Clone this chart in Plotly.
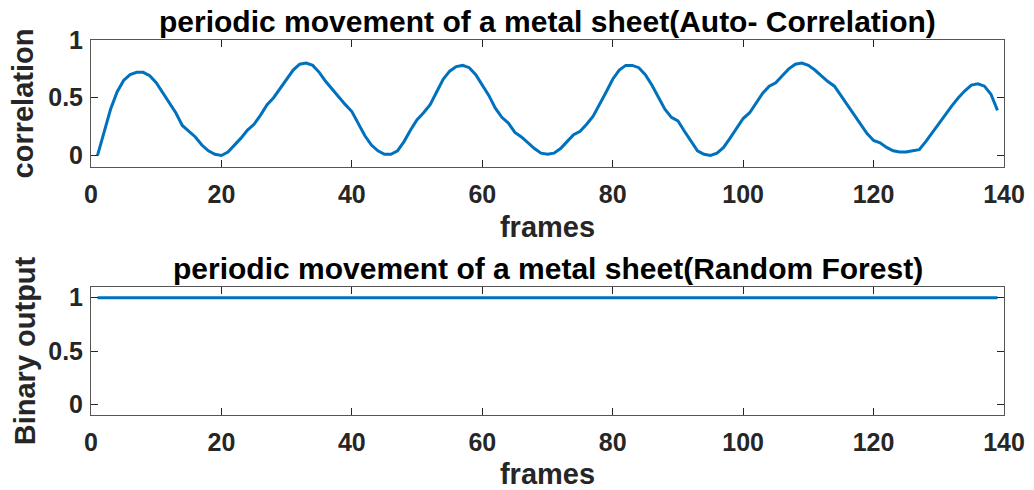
import plotly.graph_objects as go
from plotly.subplots import make_subplots

frames = list(range(1, 140))
correlation = [
    0.00, 0.20, 0.40, 0.55, 0.65, 0.70, 0.72, 0.72, 0.69, 0.63,
    0.54, 0.45, 0.37, 0.26, 0.21, 0.16, 0.09, 0.04, 0.01, 0.00,
    0.03, 0.09, 0.15, 0.22, 0.27, 0.35, 0.44, 0.50, 0.58, 0.67,
    0.74, 0.79, 0.80, 0.78, 0.72, 0.64, 0.57, 0.50, 0.44, 0.38,
    0.27, 0.17, 0.09, 0.04, 0.01, 0.01, 0.04, 0.12, 0.22, 0.31,
    0.37, 0.44, 0.55, 0.66, 0.73, 0.77, 0.78, 0.76, 0.70, 0.61,
    0.52, 0.41, 0.33, 0.28, 0.20, 0.16, 0.11, 0.06, 0.02, 0.01,
    0.02, 0.06, 0.12, 0.18, 0.21, 0.27, 0.34, 0.44, 0.55, 0.66,
    0.74, 0.78, 0.78, 0.76, 0.70, 0.61, 0.51, 0.40, 0.33, 0.30,
    0.21, 0.12, 0.04, 0.01, 0.00, 0.02, 0.07, 0.15, 0.24, 0.32,
    0.37, 0.46, 0.54, 0.60, 0.63, 0.69, 0.75, 0.79, 0.80, 0.78,
    0.74, 0.69, 0.64, 0.60, 0.52, 0.44, 0.35, 0.27, 0.19, 0.13,
    0.11, 0.07, 0.04, 0.03, 0.03, 0.04, 0.05, 0.12, 0.20, 0.28,
    0.36, 0.43, 0.50, 0.56, 0.61, 0.62, 0.60, 0.53, 0.39,
]
binary_output = [1] * len(frames)

x_ticks = [0, 20, 40, 60, 80, 100, 120, 140]
y_ticks = [0, 0.5, 1]
y_ticktext = ["0", "0.5", "1"]

title_top = "periodic movement of a metal sheet(Auto- Correlation)"
title_bottom = "periodic movement of a metal sheet(Random Forest)"

BLUE = "#0072BD"
AX = "#262626"
FONT = "Liberation Sans"

fig = make_subplots(rows=2, cols=1, vertical_spacing=0.32)
fig.add_trace(go.Scatter(x=frames, y=correlation, mode="lines",
                         line=dict(color=BLUE, width=3), showlegend=False), row=1, col=1)
fig.add_trace(go.Scatter(x=frames, y=binary_output, mode="lines",
                         line=dict(color=BLUE, width=3), showlegend=False), row=2, col=1)

tickfont = dict(family=FONT, size=25, color=AX, weight="bold")
labfont = dict(family=FONT, size=29, color=AX, weight="bold")

common_x = dict(range=[0, 140], tickvals=x_ticks, ticks="inside", ticklen=7,
                tickcolor=AX, showline=True, linecolor="#555555", linewidth=1,
                mirror="ticks", showgrid=False, zeroline=False, tickfont=tickfont,
                ticklabelstandoff=5, automargin=False)
common_y = dict(tickvals=y_ticks, ticktext=y_ticktext, ticks="inside", ticklen=7,
                tickcolor=AX, showline=True, linecolor="#555555", linewidth=1,
                mirror="ticks", showgrid=False, zeroline=False, tickfont=tickfont,
                ticklabelstandoff=2, automargin=False)

fig.update_xaxes(**common_x)
fig.update_yaxes(**common_y)
fig.update_xaxes(title=dict(text="frames", font=labfont, standoff=9), row=1, col=1)
fig.update_xaxes(title=dict(text="frames", font=labfont, standoff=9), row=2, col=1)
fig.update_yaxes(range=[-0.1, 1], title=dict(text="correlation", font=labfont, standoff=6), row=1, col=1)
fig.update_yaxes(range=[-0.1, 1.1], title=dict(text="Binary output", font=labfont, standoff=4), row=2, col=1)

H = 375.0
fig.update_layout(
    xaxis=dict(domain=[0, 1]),
    yaxis=dict(domain=[(415 - 167) / H, 1]),
    xaxis2=dict(domain=[0, 1]),
    yaxis2=dict(domain=[0, (415 - 287) / H]),
)

fig.add_annotation(text=title_top, xref="paper", yref="paper", x=0.5, y=(415 - 22) / H,
                   xanchor="center", yanchor="middle", showarrow=False,
                   font=dict(family=FONT, size=30, color="#000000", weight="bold"))
fig.add_annotation(text=title_bottom, xref="paper", yref="paper", x=0.5, y=(415 - 268) / H,
                   xanchor="center", yanchor="middle", showarrow=False,
                   font=dict(family=FONT, size=30, color="#000000", weight="bold"))

fig.update_layout(width=1034, height=490, margin=dict(l=91, r=30, t=40, b=75, autoexpand=False),
                  plot_bgcolor="white", paper_bgcolor="white")

fig.write_html("out.html", config={"displayModeBar": False},
               post_script="document.body.style.margin='0';document.body.style.overflow='hidden';")
